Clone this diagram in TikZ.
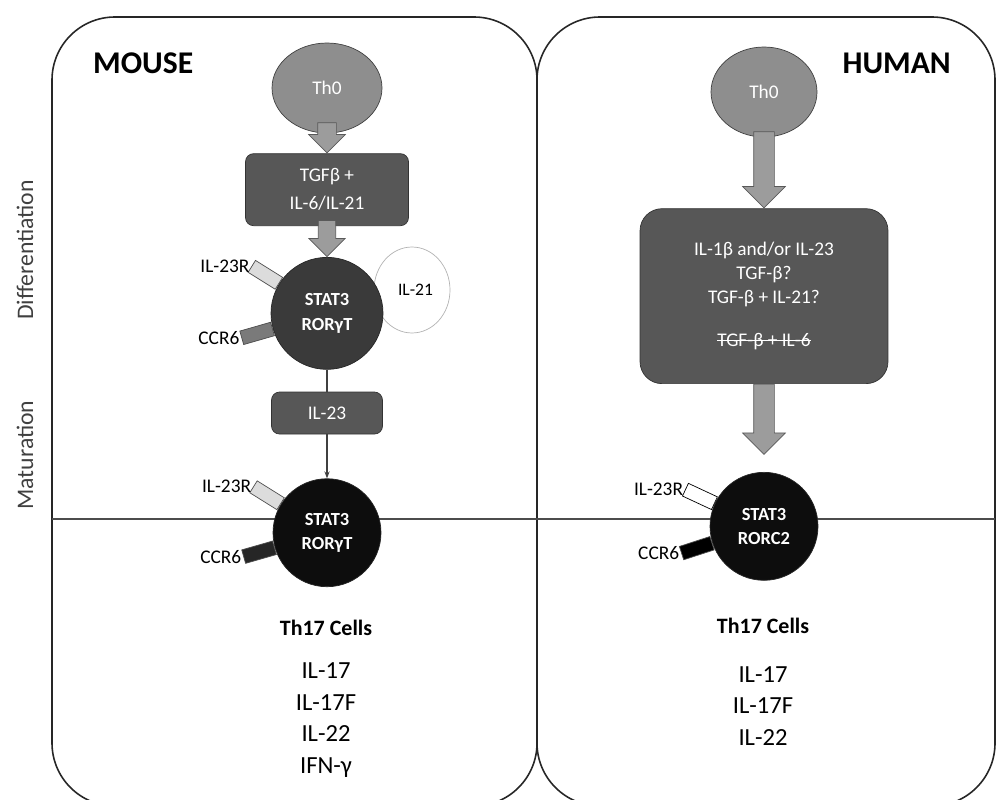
\documentclass[tikz,border=0pt]{standalone}
\usepackage{fontspec}
\setmainfont{Carlito}
\usetikzlibrary{positioning,shapes.geometric,shapes.arrows,arrows.meta}
\definecolor{naivegray}{HTML}{8E8E8E}
\definecolor{boxgray}{HTML}{575757}
\definecolor{cellgray}{HTML}{3A3A3A}
\definecolor{arrowgray}{HTML}{9C9C9C}
\definecolor{rlight}{HTML}{DCDCDC}
\definecolor{rmid}{HTML}{7A7A7A}
\newcommand{\crossout}[1]{\setbox0\hbox{#1}\rlap{\rule[0.28em]{\wd0}{0.6pt}}\box0}
\tikzset{
	panel/.style={
		draw=black!85,
		line width=0.9pt,
		rounded corners=1.26cm,
	},
	stage line/.style={
		draw=black!70,
		line width=0.6pt,
	},
	title/.style={
		font=\bfseries\fontsize{18}{20}\selectfont,
	},
	stage/.style={
		text=black!75,
		font=\fontsize{13.5}{15}\selectfont,
	},
	naive cell/.style={ % requires library shapes.geometric
		draw=black!75,
		fill=naivegray,
		ellipse,
		minimum width=2.2cm,
		minimum height=1.8cm,
		text=white,
		font=\fontsize{11}{13}\selectfont,
	},
	stimulus/.style={
		draw=black!80,
		fill=#1,
		rectangle,
		rounded corners=0.16cm,
		text=white,
		align=center,
		font=\fontsize{11}{16}\selectfont,
	},
	stimulus/.default=boxgray,
	th17 cell/.style={
		draw=black!85,
		fill=#1,
		circle,
		minimum size=2.24cm,
		inner sep=0pt,
		text=white,
		align=center,
		font=\bfseries\fontsize{10.5}{14}\selectfont,
	},
	th17 cell/.default=cellgray,
	loop cell/.style={ % requires library shapes.geometric
		draw=black!30,
		ellipse,
		minimum width=1.4cm,
		minimum height=1.72cm,
		font=\fontsize{10}{12}\selectfont,
	},
	fat arrow/.style={ % requires library shapes.arrows
		draw=black!65,
		fill=arrowgray,
		single arrow,
		single arrow head extend=0.18cm,
		minimum width=0.72cm,
		minimum height=#1,
		inner xsep=0pt,
		inner ysep=0.18cm,
		rotate=-90,
		anchor=tip,
	},
	thin link/.style={
		draw=black!75,
		line width=0.6pt,
	},
	receptor/.style={
		draw=black!70,
		fill=#1,
		rectangle,
		minimum width=0.64cm,
		minimum height=0.28cm,
		inner sep=0pt,
		anchor=west,
	},
	small label/.style={
		anchor=east,
		inner sep=1pt,
		font=\fontsize{11}{13}\selectfont,
	},
	cells label/.style={
		font=\bfseries\fontsize{12.5}{15}\selectfont,
	},
	products/.style={
		align=center,
		font=\fontsize{14}{18}\selectfont,
	},
}

\begin{document}
\begin{tikzpicture}[x=0.02cm,y=-0.02cm]
	\useasboundingbox (0,0) rectangle (996,800);
	\clip (0,0) rectangle (996,800);
	\draw[panel] (52,17) rectangle (537,806);
	\draw[panel] (537,17) rectangle (995,806);
	\draw[stage line] (52,519) -- (995,519);
	\node[title,anchor=west] (mouse) at (87,63) {MOUSE};
	\node[title,anchor=east] (human) at (957,63) {HUMAN};
	\node[stage,rotate=90] (diff) at (25,250) {Differentiation};
	\node[stage,rotate=90] (mat) at (25,455) {Maturation};
	% mouse
	\node[naive cell] (th0m) at (327,88) {Th0};
	\node[stimulus,below=0.4cm of th0m,minimum width=3.26cm,minimum height=1.44cm] (tgfm) {TGFβ +\\IL-6/IL-21};
	\node[loop cell] (il21m) at (412,290) {\hspace{4pt}IL-21};
	\node[th17 cell,below=0.62cm of tgfm] (statm) {STAT3\\RORγT};
	\node[stimulus,below=0.44cm of statm,minimum width=2.22cm,minimum height=0.84cm] (il23m) {IL-23};
	\node[th17 cell=black!95,below=0.88cm of il23m,minimum size=2.16cm] (statm2) {STAT3\\RORγT};
	\node[fat arrow=0.6cm] (a1) at (tgfm.north) {};
	\node[fat arrow=0.72cm,inner ysep=0.16cm] (a2) at (statm.north) {};
	\draw[thin link] (statm) -- (il23m);
	\draw[thin link,-{Stealth[length=4pt,width=3pt]}] (il23m) -- (statm2);
	\node[receptor=rlight,rotate=148] (il23rm) at (statm.148) {};
	\node[small label] (il23rml) at (il23rm.east) {IL-23R};
	\node[receptor=rmid,rotate=196] (ccr6m) at (statm.196) {};
	\node[small label] (ccr6ml) at (ccr6m.east) {CCR6};
	\node[receptor=rlight,rotate=148] (il23rm2) at (statm2.148) {};
	\node[small label] (il23rml2) at (il23rm2.east) {IL-23R};
	\node[receptor=black!85,rotate=196] (ccr6m2) at (statm2.196) {};
	\node[small label] (ccr6ml2) at (ccr6m2.east) {CCR6};
	\node[cells label] (th17m) at (326,628) {Th17 Cells};
	\node[products] (prodm) at (326,720) {IL-17\\IL-17F\\IL-22\\IFN-γ};
	% human
	\node[naive cell,minimum width=2.12cm] (th0h) at (764,92) {Th0};
	\node[stimulus,below=1.42cm of th0h,minimum width=4.96cm,minimum height=3.5cm,rounded corners=0.44cm,font=\fontsize{11}{13.6}\selectfont] (condh) {IL-1β and/or IL-23\\TGF-β?\\TGF-β + IL-21?\\[11pt]\crossout{TGF-β + IL-6}};
	\node[th17 cell=black!95,below=1.76cm of condh,minimum size=2.16cm] (stath) {STAT3\\RORC2};
	\node[fat arrow=1.52cm,minimum width=0.84cm,inner ysep=0.2cm,single arrow head extend=0.22cm] (a3) at (condh.north) {};
	\node[fat arrow=1.4cm,minimum width=0.84cm,inner ysep=0.2cm,single arrow head extend=0.22cm,anchor=tail] (a4) at (condh.south) {};
	\node[receptor=white,draw=black,rotate=155] (il23rh) at (stath.155) {};
	\node[small label] (il23rhl) at (il23rh.east) {IL-23R};
	\node[receptor=black,rotate=198] (ccr6h) at (stath.198) {};
	\node[small label] (ccr6hl) at (ccr6h.east) {CCR6};
	\node[cells label] (th17h) at (763,626) {Th17 Cells};
	\node[products] (prodh) at (763,706) {IL-17\\IL-17F\\IL-22};
\end{tikzpicture}
\end{document}
